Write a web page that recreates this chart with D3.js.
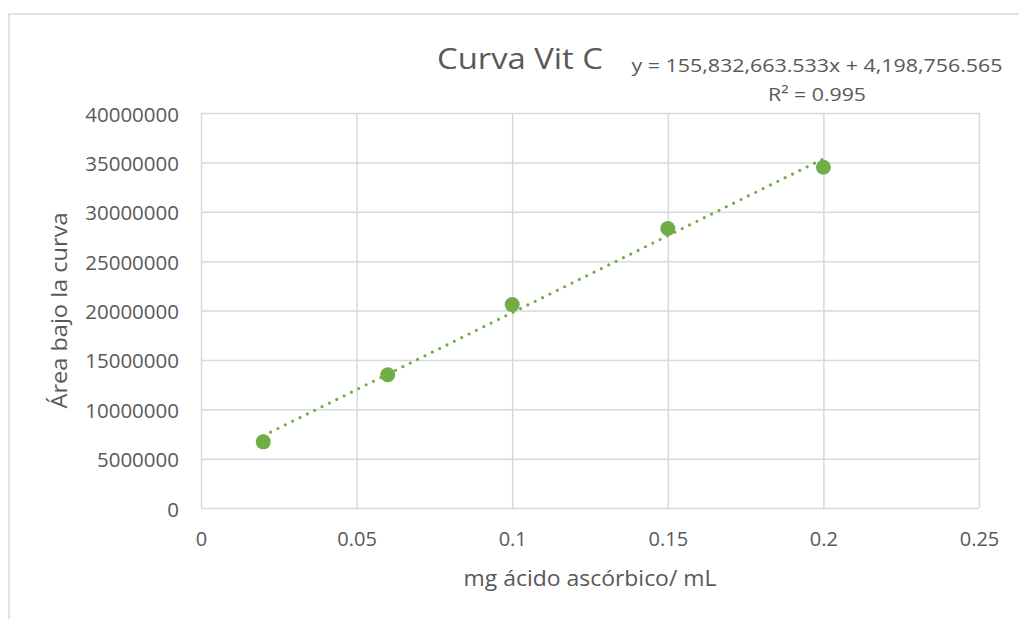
<!DOCTYPE html>
<html>
<head>
<meta charset="utf-8">
<script src="https://cdn.jsdelivr.net/npm/d3@7"></script>
<style>
  html, body { margin: 0; padding: 0; background: #ffffff; }
  svg { display: block; }
  text { font-family: "Open Sans", "Noto Sans", sans-serif; fill: #595959; }
</style>
</head>
<body>
<svg id="chart" width="1019" height="619"></svg>
<script>
// ---- data ----
const chartTitle = "Curva Vit C";
const xTitle = "mg ácido ascórbico/ mL";
const yTitle = "Área bajo la curva";
const xValues = [0.02, 0.06, 0.1, 0.15, 0.2];
const yValues = [6700000, 13500000, 20600000, 28300000, 34500000];
const xTicks = [0, 0.05, 0.1, 0.15, 0.2, 0.25];
const xTickLabels = ["0", "0.05", "0.1", "0.15", "0.2", "0.25"];
const yTicks = [0, 5000000, 10000000, 15000000, 20000000, 25000000, 30000000, 35000000, 40000000];
const trendSlope = 155832663.533;
const trendIntercept = 4198756.565;
const trendR2 = 0.995;

// ---- layout ----
const svg = d3.select("#chart");
const plot = { left: 201, right: 979, top: 113, bottom: 508 };
const green = "#70ad47";
const gridColor = "#d9d9d9";

// chart border
svg.append("rect")
  .attr("x", 9).attr("y", 14)
  .attr("width", 1030).attr("height", 630)
  .attr("fill", "#ffffff")
  .attr("stroke", gridColor).attr("stroke-width", 1.5);

const x = d3.scaleLinear().domain([0, 0.25]).range([plot.left, plot.right]);
const y = d3.scaleLinear().domain([0, 40000000]).range([plot.bottom, plot.top]);

// gridlines
const gx = svg.append("g").attr("transform", `translate(0,${plot.bottom})`)
  .call(d3.axisBottom(x).tickValues(xTicks).tickSize(-(plot.bottom - plot.top)).tickFormat(""));
gx.select(".domain").remove();
gx.selectAll("line").attr("stroke", gridColor).attr("stroke-width", 1.5);

const gy = svg.append("g").attr("transform", `translate(${plot.left},0)`)
  .call(d3.axisLeft(y).tickValues(yTicks).tickSize(-(plot.right - plot.left)).tickFormat(""));
gy.select(".domain").remove();
gy.selectAll("line").attr("stroke", gridColor).attr("stroke-width", 1.5);

// axis tick labels
const xAxis = svg.append("g").attr("transform", `translate(0,${plot.bottom})`)
  .call(d3.axisBottom(x).tickValues(xTicks).tickSize(0).tickPadding(0)
    .tickFormat((d, i) => xTickLabels[i]));
xAxis.select(".domain").remove();
xAxis.selectAll("text")
  .attr("dy", null).attr("y", 38)
  .style("font-size", "20px").attr("fill", "#595959");

const yAxis = svg.append("g").attr("transform", `translate(${plot.left},0)`)
  .call(d3.axisLeft(y).tickValues(yTicks).tickSize(0).tickPadding(0)
    .tickFormat(d3.format("d")));
yAxis.select(".domain").remove();
yAxis.selectAll("text")
  .attr("dy", null).attr("x", -22).attr("y", 8)
  .style("font-size", "20.5px").attr("fill", "#595959");

// trendline (dotted)
const tx0 = d3.min(xValues), tx1 = d3.max(xValues);
svg.append("line")
  .attr("x1", x(tx0)).attr("y1", y(trendSlope * tx0 + trendIntercept))
  .attr("x2", x(tx1)).attr("y2", y(trendSlope * tx1 + trendIntercept))
  .attr("stroke", green).attr("stroke-width", 3.2)
  .attr("stroke-linecap", "round")
  .attr("stroke-dasharray", "0,8.2");

// points
svg.append("g").selectAll("circle")
  .data(xValues.map((v, i) => [v, yValues[i]]))
  .join("circle")
  .attr("cx", d => x(d[0])).attr("cy", d => y(d[1]))
  .attr("r", 7.5).attr("fill", green);

// titles
svg.append("text")
  .attr("x", 520).attr("y", 69)
  .attr("text-anchor", "middle")
  .attr("textLength", 166).attr("lengthAdjust", "spacingAndGlyphs")
  .style("font-size", "29px")
  .text(chartTitle);

const fmt = d3.format(",.3f");
svg.append("text")
  .attr("x", 817).attr("y", 72)
  .attr("text-anchor", "middle")
  .attr("textLength", 371).attr("lengthAdjust", "spacingAndGlyphs")
  .style("font-size", "18.5px")
  .text(`y = ${fmt(trendSlope)}x + ${fmt(trendIntercept)}`);

svg.append("text")
  .attr("x", 817).attr("y", 101)
  .attr("text-anchor", "middle")
  .attr("textLength", 98).attr("lengthAdjust", "spacingAndGlyphs")
  .style("font-size", "19px")
  .text("R² = " + trendR2.toFixed(3));

svg.append("text")
  .attr("x", (plot.left + plot.right) / 2).attr("y", 586)
  .attr("text-anchor", "middle")
  .attr("textLength", 253).attr("lengthAdjust", "spacingAndGlyphs")
  .style("font-size", "21px")
  .text(xTitle);

svg.append("text")
  .attr("transform", `translate(67,${(plot.top + plot.bottom) / 2}) rotate(-90)`)
  .attr("text-anchor", "middle")
  .attr("textLength", 196).attr("lengthAdjust", "spacingAndGlyphs")
  .style("font-size", "21px")
  .text(yTitle);
</script>
</body>
</html>
